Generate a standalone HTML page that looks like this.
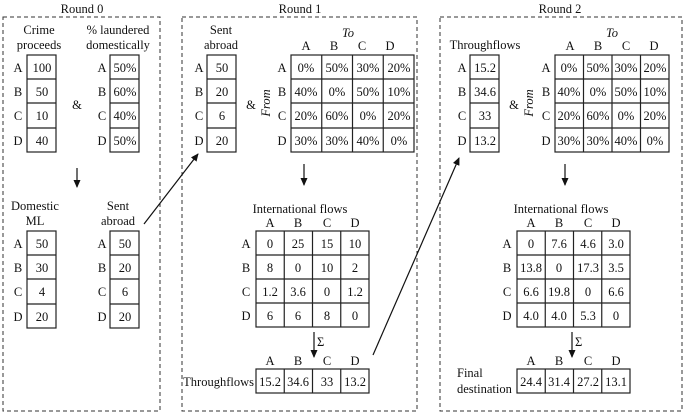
<!DOCTYPE html>
<html><head><meta charset="utf-8"><style>
html,body{margin:0;padding:0;background:#fff;}
svg{display:block;}
text{font-family:"Liberation Serif",serif;font-size:12.5px;fill:#111;}
.c{text-anchor:middle;}
.r{text-anchor:end;}
.g{fill:none;stroke:#222;stroke-width:1.2;}
.d{fill:none;stroke:#333;stroke-width:1;stroke-dasharray:4,3;}
.h{font-size:12.5px;}
</style></head><body>
<svg width="685" height="417" viewBox="0 0 685 417" xmlns="http://www.w3.org/2000/svg">
<defs><marker id="ah" markerWidth="8" markerHeight="8" refX="7" refY="4" orient="auto" markerUnits="userSpaceOnUse"><path d="M0,0.5 L8,4 L0,7.5 z" fill="#111"/></marker></defs>

<rect class="d" x="3" y="17" width="157" height="394"/>
<rect class="d" x="182" y="17" width="235" height="394"/>
<rect class="d" x="440" y="17" width="242" height="394"/>
<text class="c" x="82" y="13">Round 0</text>
<text class="c" x="300" y="13">Round 1</text>
<text class="c" x="560" y="13">Round 2</text>

<!-- ROUND 0 -->
<text class="c" x="39" y="34">Crime</text>
<text class="c" x="39" y="49">proceeds</text>
<text class="c" x="118" y="34">% laundered</text>
<text class="c" x="118" y="49">domestically</text>
<g class="g"><rect x="27" y="55" width="29" height="97"/><line x1="27" y1="79" x2="56" y2="79"/><line x1="27" y1="103" x2="56" y2="103"/><line x1="27" y1="128" x2="56" y2="128"/></g>
<g class="g"><rect x="110" y="55" width="29" height="97"/><line x1="110" y1="79" x2="139" y2="79"/><line x1="110" y1="103" x2="139" y2="103"/><line x1="110" y1="128" x2="139" y2="128"/></g>
<text class="c" x="18" y="72">A</text><text class="c" x="18" y="96">B</text><text class="c" x="18" y="120">C</text><text class="c" x="18" y="145">D</text>
<text class="c" x="42" y="72">100</text><text class="c" x="42" y="96">50</text><text class="c" x="42" y="120">10</text><text class="c" x="42" y="145">40</text>
<text class="c" x="102" y="72">A</text><text class="c" x="102" y="96">B</text><text class="c" x="102" y="120">C</text><text class="c" x="102" y="145">D</text>
<text class="c" x="125" y="72">50%</text><text class="c" x="125" y="96">60%</text><text class="c" x="125" y="120">40%</text><text class="c" x="125" y="145">50%</text>
<text class="c" x="77" y="109">&amp;</text>
<line x1="77" y1="168" x2="77" y2="187" stroke="#111" stroke-width="1.2" marker-end="url(#ah)"/>

<text class="c" x="35" y="210">Domestic</text>
<text class="c" x="35" y="225">ML</text>
<text class="c" x="118" y="210">Sent</text>
<text class="c" x="118" y="225">abroad</text>
<g class="g"><rect x="27" y="231" width="29" height="97"/><line x1="27" y1="255" x2="56" y2="255"/><line x1="27" y1="279" x2="56" y2="279"/><line x1="27" y1="304" x2="56" y2="304"/></g>
<g class="g"><rect x="110" y="231" width="29" height="97"/><line x1="110" y1="255" x2="139" y2="255"/><line x1="110" y1="279" x2="139" y2="279"/><line x1="110" y1="304" x2="139" y2="304"/></g>
<text class="c" x="18" y="248">A</text><text class="c" x="18" y="272">B</text><text class="c" x="18" y="296">C</text><text class="c" x="18" y="321">D</text>
<text class="c" x="42" y="248">50</text><text class="c" x="42" y="272">30</text><text class="c" x="42" y="296">4</text><text class="c" x="42" y="321">20</text>
<text class="c" x="102" y="248">A</text><text class="c" x="102" y="272">B</text><text class="c" x="102" y="296">C</text><text class="c" x="102" y="321">D</text>
<text class="c" x="125" y="248">50</text><text class="c" x="125" y="272">20</text><text class="c" x="125" y="296">6</text><text class="c" x="125" y="321">20</text>
<line x1="144" y1="224" x2="198" y2="154" stroke="#111" stroke-width="1.2" marker-end="url(#ah)"/>

<!-- ROUND 1 -->
<text class="c" x="221" y="34">Sent</text>
<text class="c" x="221" y="49">abroad</text>
<g class="g"><rect x="207" y="55" width="29" height="97"/><line x1="207" y1="79" x2="236" y2="79"/><line x1="207" y1="103" x2="236" y2="103"/><line x1="207" y1="128" x2="236" y2="128"/></g>
<text class="c" x="199" y="72">A</text><text class="c" x="199" y="96">B</text><text class="c" x="199" y="120">C</text><text class="c" x="199" y="145">D</text>
<text class="c" x="222" y="72">50</text><text class="c" x="222" y="96">20</text><text class="c" x="222" y="120">6</text><text class="c" x="222" y="145">20</text>
<text class="c" x="251" y="109">&amp;</text>
<text class="c" x="348" y="37" font-style="italic">To</text>
<text class="c h" x="306" y="50">A</text><text class="c h" x="334" y="50">B</text><text class="c h" x="362" y="50">C</text><text class="c h" x="390" y="50">D</text>
<text class="c" x="270" y="103" font-style="italic" transform="rotate(-90 270 103)">From</text>
<g class="g"><rect x="291" y="55" width="123" height="97"/><line x1="291" y1="79" x2="414" y2="79"/><line x1="291" y1="103" x2="414" y2="103"/><line x1="291" y1="128" x2="414" y2="128"/><line x1="321.75" y1="55" x2="321.75" y2="152"/><line x1="352.5" y1="55" x2="352.5" y2="152"/><line x1="383.25" y1="55" x2="383.25" y2="152"/></g>
<text class="c" x="282" y="72">A</text><text class="c" x="282" y="96">B</text><text class="c" x="282" y="120">C</text><text class="c" x="282" y="145">D</text>
<text class="c" x="306" y="72">0%</text><text class="c" x="337" y="72">50%</text><text class="c" x="368" y="72">30%</text><text class="c" x="399" y="72">20%</text>
<text class="c" x="306" y="96">40%</text><text class="c" x="337" y="96">0%</text><text class="c" x="368" y="96">50%</text><text class="c" x="399" y="96">10%</text>
<text class="c" x="306" y="120">20%</text><text class="c" x="337" y="120">60%</text><text class="c" x="368" y="120">0%</text><text class="c" x="399" y="120">20%</text>
<text class="c" x="306" y="145">30%</text><text class="c" x="337" y="145">30%</text><text class="c" x="368" y="145">40%</text><text class="c" x="399" y="145">0%</text>
<line x1="304" y1="164" x2="304" y2="185" stroke="#111" stroke-width="1.2" marker-end="url(#ah)"/>

<text class="c" x="300" y="213">International flows</text>
<text class="c h" x="270" y="227">A</text><text class="c h" x="298" y="227">B</text><text class="c h" x="327" y="227">C</text><text class="c h" x="355" y="227">D</text>
<g class="g"><rect x="256" y="231" width="113" height="96"/><line x1="256" y1="255" x2="369" y2="255"/><line x1="256" y1="279" x2="369" y2="279"/><line x1="256" y1="303" x2="369" y2="303"/><line x1="284.25" y1="231" x2="284.25" y2="327"/><line x1="312.5" y1="231" x2="312.5" y2="327"/><line x1="340.75" y1="231" x2="340.75" y2="327"/></g>
<text class="c" x="246" y="248">A</text><text class="c" x="246" y="272">B</text><text class="c" x="246" y="296">C</text><text class="c" x="246" y="320">D</text>
<text class="c" x="270" y="248">0</text><text class="c" x="298" y="248">25</text><text class="c" x="327" y="248">15</text><text class="c" x="355" y="248">10</text>
<text class="c" x="270" y="272">8</text><text class="c" x="298" y="272">0</text><text class="c" x="327" y="272">10</text><text class="c" x="355" y="272">2</text>
<text class="c" x="270" y="296">1.2</text><text class="c" x="298" y="296">3.6</text><text class="c" x="327" y="296">0</text><text class="c" x="355" y="296">1.2</text>
<text class="c" x="270" y="320">6</text><text class="c" x="298" y="320">6</text><text class="c" x="327" y="320">8</text><text class="c" x="355" y="320">0</text>
<line x1="314" y1="332" x2="314" y2="357" stroke="#111" stroke-width="1.2" marker-end="url(#ah)"/>
<text x="317" y="346">Σ</text>
<text class="c h" x="270" y="365">A</text><text class="c h" x="298" y="365">B</text><text class="c h" x="327" y="365">C</text><text class="c h" x="355" y="365">D</text>
<g class="g"><rect x="256" y="369" width="113" height="24"/><line x1="284.25" y1="369" x2="284.25" y2="393"/><line x1="312.5" y1="369" x2="312.5" y2="393"/><line x1="340.75" y1="369" x2="340.75" y2="393"/></g>
<text class="r" x="254" y="386">Throughflows</text>
<text class="c" x="270" y="386">15.2</text><text class="c" x="298" y="386">34.6</text><text class="c" x="327" y="386">33</text><text class="c" x="355" y="386">13.2</text>
<line x1="373" y1="355" x2="459" y2="158" stroke="#111" stroke-width="1.2" marker-end="url(#ah)"/>

<!-- ROUND 2 -->
<text class="c" x="485" y="49">Throughflows</text>
<g class="g"><rect x="470" y="55" width="29" height="97"/><line x1="470" y1="79" x2="499" y2="79"/><line x1="470" y1="103" x2="499" y2="103"/><line x1="470" y1="128" x2="499" y2="128"/></g>
<text class="c" x="462" y="72">A</text><text class="c" x="462" y="96">B</text><text class="c" x="462" y="120">C</text><text class="c" x="462" y="145">D</text>
<text class="c" x="485" y="72">15.2</text><text class="c" x="485" y="96">34.6</text><text class="c" x="485" y="120">33</text><text class="c" x="485" y="145">13.2</text>
<text class="c" x="514" y="109">&amp;</text>
<text class="c" x="612" y="37" font-style="italic">To</text>
<text class="c h" x="570" y="50">A</text><text class="c h" x="598" y="50">B</text><text class="c h" x="626" y="50">C</text><text class="c h" x="654" y="50">D</text>
<text class="c" x="533" y="103" font-style="italic" transform="rotate(-90 533 103)">From</text>
<g class="g"><rect x="555" y="55" width="114" height="97"/><line x1="555" y1="79" x2="669" y2="79"/><line x1="555" y1="103" x2="669" y2="103"/><line x1="555" y1="128" x2="669" y2="128"/><line x1="583.5" y1="55" x2="583.5" y2="152"/><line x1="612" y1="55" x2="612" y2="152"/><line x1="640.5" y1="55" x2="640.5" y2="152"/></g>
<text class="c" x="546" y="72">A</text><text class="c" x="546" y="96">B</text><text class="c" x="546" y="120">C</text><text class="c" x="546" y="145">D</text>
<text class="c" x="569" y="72">0%</text><text class="c" x="598" y="72">50%</text><text class="c" x="626" y="72">30%</text><text class="c" x="655" y="72">20%</text>
<text class="c" x="569" y="96">40%</text><text class="c" x="598" y="96">0%</text><text class="c" x="626" y="96">50%</text><text class="c" x="655" y="96">10%</text>
<text class="c" x="569" y="120">20%</text><text class="c" x="598" y="120">60%</text><text class="c" x="626" y="120">0%</text><text class="c" x="655" y="120">20%</text>
<text class="c" x="569" y="145">30%</text><text class="c" x="598" y="145">30%</text><text class="c" x="626" y="145">40%</text><text class="c" x="655" y="145">0%</text>
<line x1="565" y1="164" x2="565" y2="185" stroke="#111" stroke-width="1.2" marker-end="url(#ah)"/>

<text class="c" x="561" y="213">International flows</text>
<text class="c h" x="531" y="227">A</text><text class="c h" x="559" y="227">B</text><text class="c h" x="588" y="227">C</text><text class="c h" x="616" y="227">D</text>
<g class="g"><rect x="517" y="231" width="113" height="96"/><line x1="517" y1="255" x2="630" y2="255"/><line x1="517" y1="279" x2="630" y2="279"/><line x1="517" y1="303" x2="630" y2="303"/><line x1="545.25" y1="231" x2="545.25" y2="327"/><line x1="573.5" y1="231" x2="573.5" y2="327"/><line x1="601.75" y1="231" x2="601.75" y2="327"/></g>
<text class="c" x="507" y="248">A</text><text class="c" x="507" y="272">B</text><text class="c" x="507" y="296">C</text><text class="c" x="507" y="320">D</text>
<text class="c" x="531" y="248">0</text><text class="c" x="559" y="248">7.6</text><text class="c" x="588" y="248">4.6</text><text class="c" x="616" y="248">3.0</text>
<text class="c" x="531" y="272">13.8</text><text class="c" x="559" y="272">0</text><text class="c" x="588" y="272">17.3</text><text class="c" x="616" y="272">3.5</text>
<text class="c" x="531" y="296">6.6</text><text class="c" x="559" y="296">19.8</text><text class="c" x="588" y="296">0</text><text class="c" x="616" y="296">6.6</text>
<text class="c" x="531" y="320">4.0</text><text class="c" x="559" y="320">4.0</text><text class="c" x="588" y="320">5.3</text><text class="c" x="616" y="320">0</text>
<line x1="572" y1="332" x2="572" y2="357" stroke="#111" stroke-width="1.2" marker-end="url(#ah)"/>
<text x="575" y="346">Σ</text>
<text class="c h" x="531" y="365">A</text><text class="c h" x="559" y="365">B</text><text class="c h" x="588" y="365">C</text><text class="c h" x="616" y="365">D</text>
<g class="g"><rect x="517" y="369" width="113" height="24"/><line x1="545.25" y1="369" x2="545.25" y2="393"/><line x1="573.5" y1="369" x2="573.5" y2="393"/><line x1="601.75" y1="369" x2="601.75" y2="393"/></g>
<text x="457" y="377">Final</text>
<text x="457" y="393">destination</text>
<text class="c" x="531" y="386">24.4</text><text class="c" x="559" y="386">31.4</text><text class="c" x="588" y="386">27.2</text><text class="c" x="616" y="386">13.1</text>
</svg>
</body></html>
